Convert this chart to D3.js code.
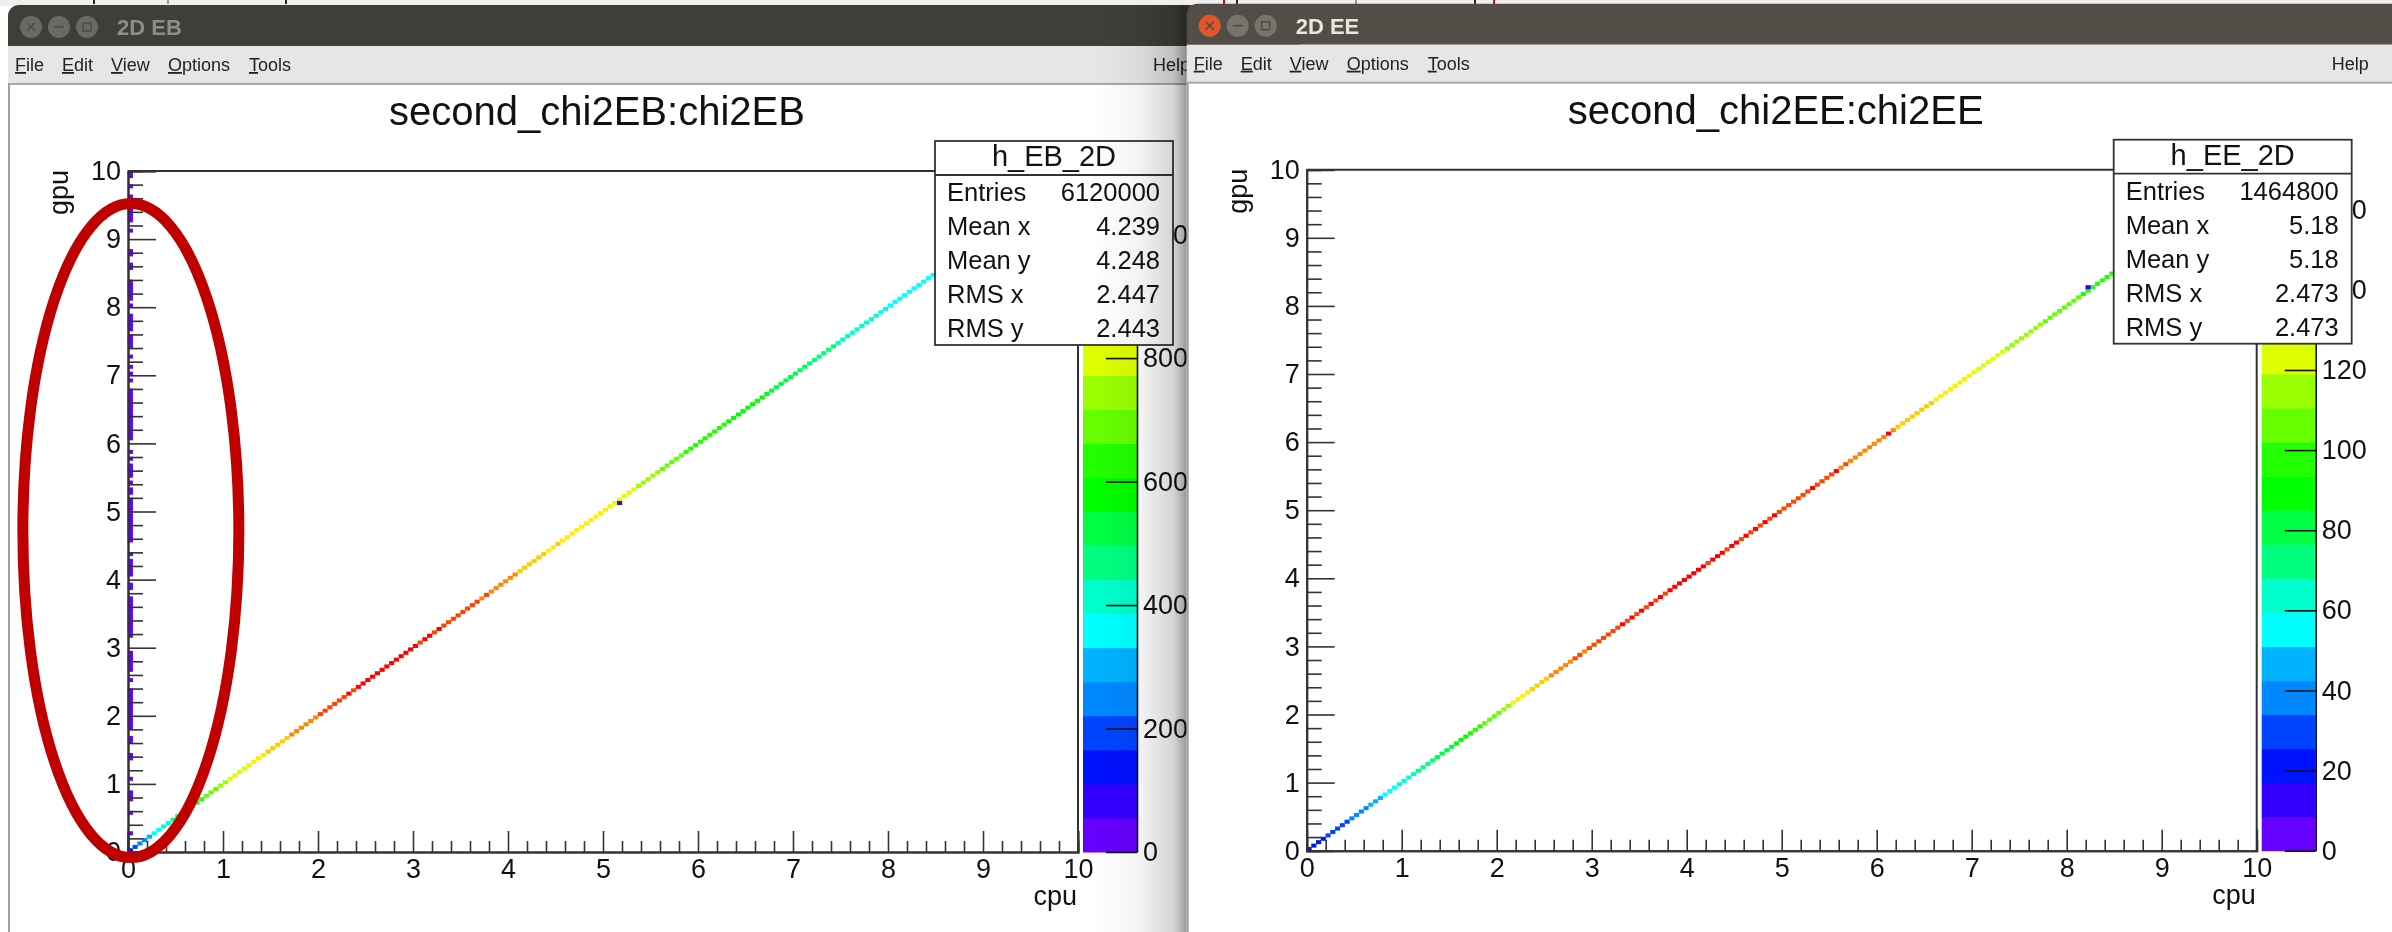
<!DOCTYPE html>
<html>
<head>
  <meta charset="utf-8">
  <title>2D EB / 2D EE</title>
  <script src="https://d3js.org/d3.v7.min.js"></script>
  <style>
    body { margin: 0; background: #fff; overflow: hidden; }
    svg { display: block; filter: blur(0.35px); }
    svg text { font-family: "Liberation Sans", Arial, sans-serif; fill: #111; }
    .menu text { font-size: 18px; fill: #222; }
  </style>
</head>
<body>
<svg width="2392" height="932"></svg>
<script>
  // ROOT rainbow palette, 20 contours
  const palette = ['#6600ff', '#3300ff', '#0011ff', '#0044ff', '#0088ff', '#00b2ff', '#00ffff', '#00ffcc', '#00ff80', '#00ff44',
    '#00ff00', '#22ff00', '#66ff00', '#99ff00', '#ddff00', '#ffee00', '#ffcc00', '#ff8800', '#ff4400', '#ff0000'];

  const menuItems = ['File', 'Edit', 'View', 'Options', 'Tools'];
  const statLabels = ['Entries', 'Mean x', 'Mean y', 'RMS x', 'RMS y'];
  const ebStats = ['6120000', '4.239', '4.248', '2.447', '2.443'];
  const eeStats = ['1464800', '5.18', '5.18', '2.473', '2.473'];

  const axisLabels = [0, 1, 2, 3, 4, 5, 6, 7, 8, 9, 10];
  const ebZTicks = [0, 200, 400, 600, 800, 1000];
  const eeZTicks = [0, 20, 40, 60, 80, 100, 120, 140, 160];
  const ebZMax = 1103;
  const eeZMax = 170;
  const binWidth = 0.05;

  // counts in the diagonal bins, one per 0.05 of cpu
  const ebDiagonal = [
    160, 195, 245, 270, 300, 345, 360, 395, 420, 450,
    510, 530, 560, 585, 610, 640, 670, 690, 715, 740,
    770, 785, 800, 810, 825, 835, 845, 860, 870, 885,
    895, 905, 920, 930, 945, 950, 960, 975, 985, 990,
    1000, 1005, 1015, 1000, 1020, 1030, 1055, 1040, 1060, 1065,
    1050, 1070, 1060, 1075, 1060, 1055, 1070, 1050, 1065, 1060,
    1055, 1045, 1060, 1050, 1035, 1050, 1030, 1040, 1020, 1035,
    1015, 1025, 1000, 1010, 990, 1000, 985, 975, 965, 955,
    945, 950, 930, 935, 915, 905, 890, 895, 875, 865,
    890, 860, 850, 845, 840, 850, 835, 840, 830, 835,
    830, 835, 825, 820, 810, 800, 780, 770, 755, 745,
    735, 725, 715, 700, 695, 685, 670, 660, 650, 640,
    630, 640, 625, 615, 620, 610, 600, 605, 590, 580,
    585, 570, 565, 555, 560, 545, 540, 530, 520, 510,
    505, 495, 500, 480, 470, 475, 460, 455, 450, 440,
    430, 435, 425, 415, 420, 405, 400, 395, 385, 390,
    380, 375, 370, 375, 365, 360, 350, 355, 345, 340,
    335, 330, 340, 325, 320, 315, 310, 305, 300, 295,
    290, 285, 282, 275, 268, 265, 262, 255, 250, 247,
    240, 236, 230, 224, 220, 216, 210, 204, 200, 195
  ];
  const eeDiagonal = [
    18, 20, 21, 23, 26, 27, 28, 30, 32, 35,
    37, 40, 41, 44, 46, 49, 52, 55, 57, 60,
    62, 64, 67, 69, 71, 73, 76, 77, 79, 82,
    84, 87, 89, 91, 94, 96, 99, 102, 104, 107,
    110, 113, 117, 121, 128, 131, 134, 137, 139, 141,
    143, 145, 146, 149, 151, 150, 153, 155, 152, 156,
    154, 157, 156, 159, 158, 160, 162, 157, 163, 160,
    163, 158, 164, 161, 165, 160, 166, 162, 168, 163,
    164, 169, 162, 165, 161, 166, 163, 168, 160, 164,
    166, 161, 165, 159, 163, 160, 162, 158, 164, 157,
    161, 156, 160, 157, 159, 155, 163, 154, 158, 156,
    153, 165, 152, 155, 150, 151, 149, 147, 148, 146,
    145, 147, 163, 146, 144, 141, 142, 139, 140, 137,
    138, 136, 134, 135, 132, 133, 130, 131, 129, 128,
    126, 127, 124, 122, 123, 120, 121, 117, 118, 115,
    116, 113, 114, 111, 112, 108, 109, 106, 107, 104,
    105, 102, 103, 100, 99, 101, 97, 98, 95, 96,
    93, 94, 91, 92, 89, 90, 87, 88, 85, 86,
    83, 84, 81, 82, 79, 80, 77, 78, 75, 76,
    73, 74, 71, 72, 69, 70, 67, 68, 65, 66
  ];

  // y bins filled in the first cpu bin of EB (the circled column)
  const ebColumnBins = [
    5, 11, 15, 16, 17, 21, 27, 28, 32, 33,
    36, 37, 38, 39, 40, 41, 42, 43, 44, 45, 46, 47, 50,
    53, 54, 55, 56, 57, 58, 63, 64, 65, 66, 67, 68, 69, 70, 71, 72, 73, 74,
    77, 78, 81, 82, 83, 84, 85, 87, 91, 92, 93, 94, 95, 96, 97, 98, 99, 100, 101,
    102, 103, 105, 106, 108, 110, 111, 112, 113, 115, 117,
    121, 122, 123, 124, 125, 126, 127, 128, 129, 130, 131, 132, 133, 134, 135,
    138, 140, 142, 145, 148, 149, 150, 151, 153, 154, 155, 156, 157, 160,
    162, 163, 164, 165, 166, 167, 171, 172, 175, 176, 182, 185, 186, 187, 188,
    192, 195, 198, 199
  ];
  const ebColumnCount = 30;
  const eeColumnBins = [];
  const eeColumnCount = 0;

  // lone off-diagonal bins
  const ebStrayX = [103];
  const ebStrayY = [102];
  const ebStrayCount = [60];
  const eeStrayX = [164];
  const eeStrayY = [165];
  const eeStrayCount = [12];

  const svg = d3.select('svg');
  const defs = svg.append('defs');

  const shade = defs.append('linearGradient').attr('id', 'shade')
    .attr('gradientUnits', 'userSpaceOnUse')
    .attr('x1', 1095).attr('x2', 1188).attr('y1', 0).attr('y2', 0);
  shade.append('stop').attr('offset', 0).attr('stop-color', '#000').attr('stop-opacity', 0);
  shade.append('stop').attr('offset', 0.5).attr('stop-color', '#000').attr('stop-opacity', 0.05);
  shade.append('stop').attr('offset', 0.85).attr('stop-color', '#000').attr('stop-opacity', 0.17);
  shade.append('stop').attr('offset', 1).attr('stop-color', '#000').attr('stop-opacity', 0.42);

  // top strip left over from the desktop behind the windows
  svg.append('rect').attr('width', 2392).attr('height', 6).attr('fill', '#efefef');
  [[93, '#222'], [167, '#999'], [285, '#222'], [1223, '#e00'], [1236, '#222'], [1355, '#999'], [1474, '#222'], [1493, '#e00']]
    .forEach(([px, c]) => svg.append('rect').attr('x', px).attr('width', 2).attr('height', 4).attr('fill', c));

  function drawWindow(cfg) {
    const win = svg.append('g').attr('transform', `translate(${cfg.dx},${cfg.dy})`);

    // window frame
    win.append('rect').attr('x', 8).attr('y', 84).attr('width', 1300).attr('height', 860).attr('fill', '#fff');
    win.append('path').attr('d', 'M8 46V16a11 11 0 0 1 11-11H1300V46Z').attr('fill', cfg.barColor);
    win.append('rect').attr('x', 8).attr('y', 46).attr('width', 1300).attr('height', 38).attr('fill', '#e6e6e6');
    win.append('rect').attr('x', 8).attr('y', 83).attr('width', 1300).attr('height', 2).attr('fill', '#a8a8a8');
    win.append('rect').attr('x', 8).attr('y', 84).attr('width', 2).attr('height', 860).attr('fill', '#a0a0a0');

    cfg.buttons.forEach((c, i) => {
      const cx = 31 + i * 28;
      win.append('circle').attr('cx', cx).attr('cy', 27).attr('r', 11).attr('fill', c);
      const glyph = i === 0 ? `M${cx - 4} 23l8 8M${cx + 4} 23l-8 8`
        : i === 1 ? `M${cx - 5} 27h10`
        : `M${cx - 4} 23h8v8h-8Z`;
      win.append('path').attr('d', glyph).attr('fill', 'none').attr('stroke', cfg.glyphColor).attr('stroke-width', 1.5);
    });
    win.append('text').attr('x', 117).attr('y', 35).text(cfg.name)
      .style('font-size', '22px').style('font-weight', 'bold').style('fill', cfg.nameColor);

    const menu = win.append('g').attr('class', 'menu');
    const menuX = [15, 62, 111, 168, 249];
    menuItems.forEach((m, i) => {
      const t = menu.append('text').attr('x', menuX[i]).attr('y', 71);
      t.append('tspan').attr('text-decoration', 'underline').text(m[0]);
      t.append('tspan').text(m.slice(1));
    });
    menu.append('text').attr('x', 1153).attr('y', 71).text('Help');

    // scales
    const x = d3.scaleLinear().domain([0, 10]).range([128, 1078]);
    const y = d3.scaleLinear().domain([0, 10]).range([852, 171]);
    const z = d3.scaleLinear().domain([0, cfg.zMax]).range([852, 171]);
    const colour = d3.scaleQuantize().domain([0, cfg.zMax]).range(palette);
    const binW = x(binWidth) - x(0);
    const binH = y(0) - y(binWidth);

    win.append('text').attr('x', 597).attr('y', 125).attr('text-anchor', 'middle').text(cfg.title)
      .style('font-size', '40px');

    // colour bar
    const zStep = cfg.zMax / palette.length;
    win.append('g').selectAll('rect').data(palette).enter().append('rect')
      .attr('x', 1083).attr('width', 54)
      .attr('y', (d, i) => z((i + 1) * zStep))
      .attr('height', (d, i) => z(i * zStep) - z((i + 1) * zStep) + 0.5)
      .attr('fill', d => d);
    const zAxis = win.append('g').attr('transform', 'translate(1137,0)')
      .call(d3.axisRight(z).tickValues(cfg.zTicks).tickSize(0).tickPadding(6).tickFormat(d3.format('d')));
    zAxis.select('.domain').attr('stroke', '#111').attr('stroke-width', 1.6);
    zAxis.selectAll('line').attr('x2', -31).attr('stroke', '#111').attr('stroke-width', 1.6);
    zAxis.selectAll('text').style('font-size', '27px');

    // histogram bins, a touch oversized like ROOT's pixel-snapped boxes
    const cells = [];
    cfg.diagonal.forEach((v, i) => cells.push({ ix: i, iy: i, v }));
    cfg.columnBins.forEach(iy => cells.push({ ix: 0, iy, v: cfg.columnCount }));
    cfg.strayX.forEach((ix, i) => cells.push({ ix, iy: cfg.strayY[i], v: cfg.strayCount[i] }));
    win.append('g').selectAll('rect').data(cells).enter().append('rect')
      .attr('x', d => x(d.ix * binWidth) - 0.2)
      .attr('y', d => y((d.iy + 1) * binWidth) - 0.3)
      .attr('width', binW + 0.4).attr('height', binH + 0.6)
      .attr('fill', d => colour(d.v));

    // frame and axes
    win.append('path').attr('d', `M${x(0)} ${y(10)}H${x(10)}V${y(0)}`)
      .attr('fill', 'none').attr('stroke', '#333').attr('stroke-width', 2);

    const minorTicks = d3.range(0, 51).filter(i => i % 5).map(i => i * 0.2);

    const xMinor = win.append('g').attr('transform', `translate(0,${y(0)})`)
      .call(d3.axisTop(x).tickValues(minorTicks).tickSize(11).tickFormat(''));
    const xMajor = win.append('g').attr('transform', `translate(0,${y(0)})`)
      .call(d3.axisTop(x).tickValues(axisLabels).tickSize(21).tickFormat(''));
    const xText = win.append('g').attr('transform', `translate(0,${y(0)})`)
      .call(d3.axisBottom(x).tickValues(axisLabels).tickSize(0).tickPadding(7).tickFormat(d3.format('d')));
    const yMinor = win.append('g').attr('transform', `translate(${x(0)},0)`)
      .call(d3.axisRight(y).tickValues(minorTicks).tickSize(15).tickFormat(''));
    const yMajor = win.append('g').attr('transform', `translate(${x(0)},0)`)
      .call(d3.axisRight(y).tickValues(axisLabels).tickSize(28).tickFormat(''));
    const yText = win.append('g').attr('transform', `translate(${x(0)},0)`)
      .call(d3.axisLeft(y).tickValues(axisLabels).tickSize(0).tickPadding(7).tickFormat(d3.format('d')));

    [xMinor, xMajor, yMinor, yMajor].forEach(a => {
      a.select('.domain').attr('stroke', '#333').attr('stroke-width', 2);
      a.selectAll('line').attr('stroke', '#333').attr('stroke-width', 1.6);
    });
    [xText, yText].forEach(a => {
      a.select('.domain').remove();
      a.selectAll('text').style('font-size', '27px');
    });

    win.append('text').attr('x', 1077).attr('y', 905).attr('text-anchor', 'end').text('cpu')
      .style('font-size', '27px');
    win.append('text').attr('transform', `translate(68,170) rotate(-90)`).attr('text-anchor', 'end').text('gpu')
      .style('font-size', '27px');

    // stats box
    const box = win.append('g');
    box.append('rect').attr('x', 935).attr('y', 141).attr('width', 238).attr('height', 204)
      .attr('fill', '#fff').attr('stroke', '#333').attr('stroke-width', 1.8);
    box.append('line').attr('x1', 935).attr('x2', 1173).attr('y1', 175).attr('y2', 175)
      .attr('stroke', '#333').attr('stroke-width', 1.8);
    box.append('text').attr('x', 1054).attr('y', 166).attr('text-anchor', 'middle').text(cfg.histName)
      .style('font-size', '29px');
    statLabels.forEach((s, i) => {
      box.append('text').attr('x', 947).attr('y', 201 + i * 34).text(s).style('font-size', '25.5px');
      box.append('text').attr('x', 1160).attr('y', 201 + i * 34).attr('text-anchor', 'end').text(cfg.stats[i])
        .style('font-size', '25.5px');
    });

    return { win, x, y };
  }

  const eb = drawWindow({
    dx: 0, dy: 0, name: '2D EB', barColor: '#403e39', nameColor: '#8d8d8b', glyphColor: '#4d4b46',
    buttons: ['#6b6964', '#6b6964', '#6b6964'],
    title: 'second_chi2EB:chi2EB', histName: 'h_EB_2D', stats: ebStats,
    zMax: ebZMax, zTicks: ebZTicks, diagonal: ebDiagonal,
    columnBins: ebColumnBins, columnCount: ebColumnCount,
    strayX: ebStrayX, strayY: ebStrayY, strayCount: ebStrayCount
  });

  // hand-drawn circle around the column at cpu = 0
  eb.win.append('ellipse')
    .attr('cx', eb.x(0.03)).attr('cy', eb.y(4.72))
    .attr('rx', 108).attr('ry', 327)
    .attr('fill', 'none').attr('stroke', '#c00000').attr('stroke-width', 11);

  // shadow the EE window throws on the EB one
  svg.append('rect').attr('x', 1095).attr('y', 5).attr('width', 93).attr('height', 927).attr('fill', 'url(#shade)');

  drawWindow({
    dx: 1178.7, dy: -1.3, name: '2D EE', barColor: '#524e47', nameColor: '#ece6da', glyphColor: '#4d4b46',
    buttons: ['#e2572a', '#77746c', '#77746c'],
    title: 'second_chi2EE:chi2EE', histName: 'h_EE_2D', stats: eeStats,
    zMax: eeZMax, zTicks: eeZTicks, diagonal: eeDiagonal,
    columnBins: eeColumnBins, columnCount: eeColumnCount,
    strayX: eeStrayX, strayY: eeStrayY, strayCount: eeStrayCount
  });
</script>
</body>
</html>
